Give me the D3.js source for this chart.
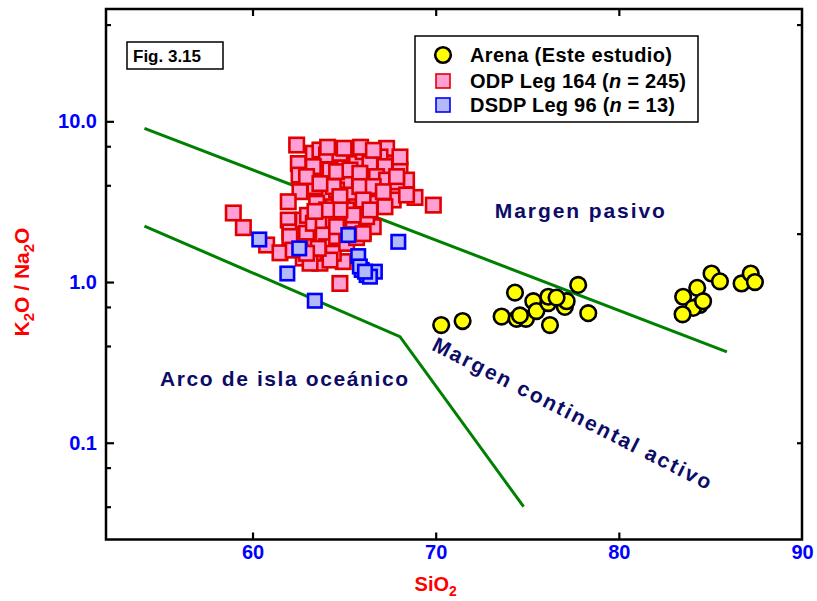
<!DOCTYPE html>
<html><head><meta charset="utf-8">
<script src="https://cdn.jsdelivr.net/npm/d3@7"></script>
<style>
body{margin:0;background:#fff}
svg text{font-family:"Liberation Sans",Arial,sans-serif;font-weight:bold}
</style>
</head><body><svg id="c" width="817" height="601"></svg>
<script>
// ---------------- data ----------------
const odpSiO2 = [58.95,59.5,60.77,61.5,62.41,62.5,62.54,62.59,61.95,61.95,62.04,62.77,62.95,63.14,63.41,63.68,62.77,64.77,64.95,66.04,
  66.59,69.87,68.87,68.23,67.68,67.32,67.68,68.05,68.41,66.96,66.23,64.95,64.41,63.86,63.95,63.41,65.32,65.68,66.96,66.59,
  65.5,65.05,64.59,65.32,66.23,65.68,66.77,67.68,65.14,64.41,63.5,63.0,63.32,63.86,64.41,64.95,65.5,66.23,63.86,64.04,
  64.59,64.41,63.32,62.59,62.04,62.22,65.14,65.68,64.23,63.59,63.14,63.32,63.68,64.04,64.77,66.04,66.41,67.23,68.05,63.32,
  62.95,64.23,64.59,65.32,65.86,66.77,67.32,67.87,65.86,66.59,67.14,64.41,63.68,64.77,66.04,68.41,67.23,66.41,65.5,64.77,
  64.04,63.41,64.1,65.0,65.9,66.6,67.87,66.04,64.59,62.95];
const odpRatio = [2.69,2.18,1.70,1.52,7.12,5.46,4.63,3.65,3.16,2.43,2.05,2.43,2.01,1.66,1.37,1.31,1.41,0.98,1.34,2.05,
  2.21,3.01,3.36,3.83,3.48,6.79,5.46,4.98,4.31,3.56,4.42,5.46,6.33,4.75,3.40,3.93,6.33,5.46,6.0,6.47,
  4.42,4.2,3.74,3.48,3.65,2.94,3.09,3.24,2.81,2.94,3.09,2.6,2.32,2.32,2.43,2.38,2.43,2.55,1.96,1.66,
  1.92,1.51,1.51,1.66,1.92,1.58,1.74,1.89,1.37,1.62,1.31,6.33,6.63,6.17,6.33,6.47,5.46,5.23,6.0,5.23,
  4.53,4.98,4.86,4.98,4.75,4.53,4.31,4.2,3.93,3.93,3.65,3.93,4.1,3.40,3.24,3.48,2.94,2.81,2.61,2.81,
  2.81,2.75,6.9,6.8,6.9,6.6,4.53,2.0,2.21,1.51];
const dsdpSiO2 = [60.37,62.55,61.9,63.4,65.23,67.96,65.77,65.96,66.23,66.68,65.86,66.41,66.14];
const dsdpRatio = [1.84,1.62,1.13,0.765,1.96,1.78,1.45,1.19,1.105,1.16,1.25,1.08,1.16];
const arenaSiO2 = [70.3,71.47,74.33,73.6,74.42,74.93,75.33,75.5,76.15,76.15,76.24,77.05,77.15,77.78,78.33,76.6,74.6,
  85.06,85.52,86.7,87.2,87.43,84.28,83.51,84.42,84.06,83.48,84.6];
const arenaRatio = [0.54,0.572,0.86,0.61,0.59,0.59,0.76,0.66,0.74,0.81,0.54,0.70,0.76,0.96,0.64,0.80,0.62,
  1.13,1.01,0.98,1.13,1.0,0.92,0.81,0.72,0.69,0.63,0.76];
const upperLineSiO2 = [54.1, 85.9];
const upperLineRatio = [9.05, 0.368];
const lowerLineSiO2 = [54.1, 68.05, 74.8];
const lowerLineRatio = [2.23, 0.457, 0.04];
const xTicks = [60, 70, 80, 90];
const xTickMarks = [60, 70, 80];
const yTicks = [0.1, 1, 10];
const yTickLabels = ["0.1", "1.0", "10.0"];
const yMinorTicks = [0.04, 0.07, 0.4, 0.7, 4, 7, 40];
const rightTicks = [0.1, 2, 40];
const legendNames = ["Arena (Este estudio)", "ODP Leg 164", "DSDP Leg 96"];
const legendCounts = ["", "245", "13"];
const regionNames = ["Margen pasivo", "Arco de isla oceánico", "Margen continental activo"];
const figLabel = "Fig. 3.15";

// ---------------- chart ----------------
const svg = d3.select("#c");
const L = 106, R = 802, T = 9, B = 539.5;
const x = d3.scaleLinear().domain([52, 90]).range([L, R]);
const y = d3.scaleLog().domain([0.025, 50]).range([B, T]);

const GREEN = "#008000", NAVY = "#0c0c66", BLUE = "#0000ff", RED = "#ff0000";

// boundary lines
const line = d3.line().x(d => x(d[0])).y(d => y(d[1]));
svg.append("path").datum(d3.zip(upperLineSiO2, upperLineRatio)).attr("d", line)
  .attr("fill", "none").attr("stroke", GREEN).attr("stroke-width", 3);
svg.append("path").datum(d3.zip(lowerLineSiO2, lowerLineRatio)).attr("d", line)
  .attr("fill", "none").attr("stroke", GREEN).attr("stroke-width", 3);

// ODP squares
const sq = 14.5;
svg.append("g").selectAll("rect").data(d3.zip(odpSiO2, odpRatio)).join("rect")
  .attr("x", d => x(d[0]) - sq / 2).attr("y", d => y(d[1]) - sq / 2)
  .attr("width", sq).attr("height", sq)
  .attr("fill", "#ff9fd4").attr("stroke", "#e00000").attr("stroke-width", 2.6);
// DSDP squares
const sq2 = 13.5;
svg.append("g").selectAll("rect").data(d3.zip(dsdpSiO2, dsdpRatio)).join("rect")
  .attr("x", d => x(d[0]) - sq2 / 2).attr("y", d => y(d[1]) - sq2 / 2)
  .attr("width", sq2).attr("height", sq2)
  .attr("fill", "#b4baf8").attr("stroke", "#0000ff").attr("stroke-width", 2.6);
// Arena circles
svg.append("g").selectAll("circle").data(d3.zip(arenaSiO2, arenaRatio)).join("circle")
  .attr("cx", d => x(d[0])).attr("cy", d => y(d[1])).attr("r", 7.8)
  .attr("fill", "#ffff00").attr("stroke", "#000").attr("stroke-width", 2.6);

// frame
svg.append("rect").attr("x", L).attr("y", T).attr("width", R - L).attr("height", B - T)
  .attr("fill", "none").attr("stroke", "#000").attr("stroke-width", 2.5);

// tick marks (inward)
const tickStyle = g => g.call(g => g.select(".domain").remove())
  .call(g => g.selectAll("line").attr("stroke", "#000").attr("stroke-width", 2.2));
svg.append("g").attr("transform", `translate(0,${B})`)
  .call(d3.axisBottom(x).tickValues(xTickMarks).tickSize(-7).tickFormat(""))
  .call(tickStyle);
svg.append("g").attr("transform", `translate(0,${T})`)
  .call(d3.axisTop(x).tickValues(xTickMarks).tickSize(-7).tickFormat(""))
  .call(tickStyle);
svg.append("g").attr("transform", `translate(${L},0)`)
  .call(d3.axisLeft(y).tickValues(yTicks).tickSize(-8).tickFormat(""))
  .call(tickStyle);
svg.append("g").attr("transform", `translate(${L},0)`)
  .call(d3.axisLeft(y).tickValues(yMinorTicks).tickSize(-5).tickFormat(""))
  .call(tickStyle);
svg.append("g").attr("transform", `translate(${R},0)`)
  .call(d3.axisRight(y).tickValues(rightTicks).tickSize(-5).tickFormat(""))
  .call(tickStyle);

// tick labels
const xl = svg.append("g").attr("transform", `translate(0,${B})`)
  .call(d3.axisBottom(x).tickValues(xTicks).tickSize(0).tickPadding(5).tickFormat(d3.format("d")));
xl.select(".domain").remove();
xl.selectAll("text").attr("fill", BLUE).style("font-size", "20px").attr("font-family", null);
const yl = svg.append("g").attr("transform", `translate(${L},0)`)
  .call(d3.axisLeft(y).tickValues(yTicks).tickSize(0).tickPadding(9).tickFormat((d, i) => yTickLabels[i]));
yl.select(".domain").remove();
yl.selectAll("text").attr("fill", BLUE).style("font-size", "20px").attr("font-family", null);

// axis titles
const xt = svg.append("text").attr("x", x(70)).attr("y", 591).attr("text-anchor", "middle")
  .attr("fill", RED).style("font-size", "20px");
xt.append("tspan").text("SiO");
xt.append("tspan").text("2").style("font-size", "14px").attr("dy", 5);

const yt = svg.append("text").attr("transform", `translate(29,${y(1)}) rotate(-90)`)
  .attr("text-anchor", "middle").attr("fill", RED).style("font-size", "21px");
yt.append("tspan").text("K");
yt.append("tspan").text("2").style("font-size", "15px").attr("dy", 5);
yt.append("tspan").text("O / Na").attr("dy", -5);
yt.append("tspan").text("2").style("font-size", "15px").attr("dy", 5);
yt.append("tspan").text("O").attr("dy", -5);

// figure label box
svg.append("rect").attr("x", 127).attr("y", 42).attr("width", 96).attr("height", 27)
  .attr("fill", "#fff").attr("stroke", "#000").attr("stroke-width", 1.5);
svg.append("text").attr("x", 133).attr("y", 62).text(figLabel).style("font-size", "17px").attr("fill", "#000");

// legend
const lg = svg.append("g");
lg.append("rect").attr("x", 415).attr("y", 36).attr("width", 283).attr("height", 86)
  .attr("fill", "#fff").attr("stroke", "#000").attr("stroke-width", 1.5);
const rows = [55, 81, 105];
lg.append("circle").attr("cx", 443).attr("cy", rows[0]).attr("r", 7.8)
  .attr("fill", "#ffff00").attr("stroke", "#000").attr("stroke-width", 2.6);
lg.append("rect").attr("x", 443 - 7).attr("y", rows[1] - 7).attr("width", 14).attr("height", 14)
  .attr("fill", "#ff9fd4").attr("stroke", "#e00000").attr("stroke-width", 1.6);
lg.append("rect").attr("x", 443 - 7).attr("y", rows[2] - 7).attr("width", 14).attr("height", 14)
  .attr("fill", "#b4baf8").attr("stroke", "#0000ff").attr("stroke-width", 1.6);
const legendWidths = [202, 216, 205];
legendNames.forEach((name, i) => {
  const t = lg.append("text").attr("x", 470).attr("y", rows[i] + 7).style("font-size", "20px").attr("fill", "#000")
    .attr("textLength", legendWidths[i]).attr("lengthAdjust", "spacing");
  if (legendCounts[i]) {
    t.append("tspan").text(name + " (");
    t.append("tspan").text("n").style("font-style", "italic");
    t.append("tspan").text(" = " + legendCounts[i] + ")");
  } else {
    t.text(name);
  }
});

// region labels
svg.append("text").attr("x", x(77.87)).attr("y", y(2.5)).attr("text-anchor", "middle")
  .attr("fill", NAVY).style("font-size", "21px").attr("textLength", 170).attr("lengthAdjust", "spacing")
  .text(regionNames[0]);
svg.append("text").attr("x", x(61.72)).attr("y", y(0.225)).attr("text-anchor", "middle")
  .attr("fill", NAVY).style("font-size", "21px").attr("textLength", 248).attr("lengthAdjust", "spacing")
  .text(regionNames[1]);
svg.append("text").attr("transform", `translate(${x(77.45)},${y(0.153)}) rotate(27)`)
  .attr("text-anchor", "middle").attr("dominant-baseline", "central")
  .attr("fill", NAVY).style("font-size", "21px").attr("textLength", 310).attr("lengthAdjust", "spacing")
  .text(regionNames[2]);
</script></body></html>
